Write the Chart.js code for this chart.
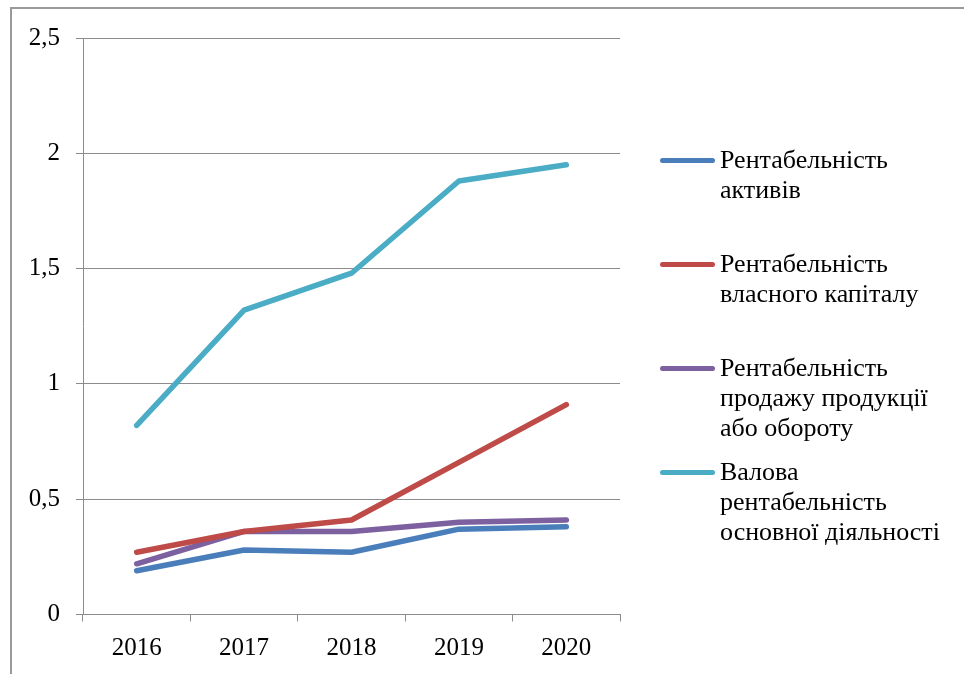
<!DOCTYPE html>
<html lang="uk">
<head>
    <meta charset="UTF-8">
    <title>Рентабельність 2016–2020</title>
    <script src="https://cdn.jsdelivr.net/npm/chart.js"></script>
    <style>
        html, body { margin: 0; padding: 0; background: #fff; }
        body { width: 964px; height: 674px; position: relative; overflow: hidden; font-family: "Liberation Serif", "DejaVu Serif", serif; }
        /* рамка області діаграми */
        .frame {
            position: absolute; left: 10px; top: 7px; right: -10px; bottom: -10px;
            border-left: 2px solid #9a9a9a; border-top: 2px solid #9a9a9a;
        }
        #chartBox { position: absolute; left: 0; top: 0; width: 964px; height: 674px; }
        .legend { position: absolute; left: 660px; top: 0; }
        .legend-item { position: absolute; left: 0; white-space: nowrap; }
        .legend-item .swatch { position: absolute; left: 0; top: 13px; width: 55px; height: 5px; border-radius: 3px; }
        .legend-item .txt { position: absolute; left: 60px; top: 0; font-size: 26px; line-height: 30px; color: #000; }
    </style>
</head>
<body>
<div class="frame"></div>
<div id="chartBox"><canvas id="lineChart" width="964" height="674"></canvas></div>
<div class="legend" id="legend"></div>

<script>
    const years = ['2016', '2017', '2018', '2019', '2020'];
    const yTicks = [0, 0.5, 1, 1.5, 2, 2.5];

    const assetsLabel  = ['Рентабельність', 'активів'];
    const equityLabel  = ['Рентабельність', 'власного капіталу'];
    const salesLabel   = ['Рентабельність', 'продажу продукції', 'або обороту'];
    const grossLabel   = ['Валова', 'рентабельність', 'основної діяльності'];

    const assets = [0.19, 0.28, 0.27, 0.37, 0.38];
    const equity = [0.27, 0.36, 0.41, 0.66, 0.91];
    const sales  = [0.22, 0.36, 0.36, 0.40, 0.41];
    const gross  = [0.82, 1.32, 1.48, 1.88, 1.95];

    const series = [
        { label: assetsLabel, data: assets, color: '#4a7ebb' },
        { label: equityLabel, data: equity, color: '#be4b48' },
        { label: salesLabel,  data: sales,  color: '#7d60a0' },
        { label: grossLabel,  data: gross,  color: '#4bacc6' }
    ];

    const axisColor = '#8c8c8c';
    const font = { family: '"Liberation Serif", "Times New Roman", serif', size: 25 };

    new Chart(document.getElementById('lineChart'), {
        type: 'line',
        data: {
            labels: years,
            datasets: series.map(s => ({
                label: s.label.join(' '),
                data: s.data,
                borderColor: s.color,
                backgroundColor: s.color,
                borderWidth: 5.5,
                borderCapStyle: 'round',
                borderJoinStyle: 'round',
                pointRadius: 0,
                tension: 0
            }))
        },
        options: {
            responsive: false,
            animation: false,
            layout: { padding: { left: 0, top: 38, right: 344, bottom: 0 } },
            plugins: { legend: { display: false }, tooltip: { enabled: false } },
            scales: {
                x: {
                    offset: true,
                    grid: { display: true, drawOnChartArea: false, drawTicks: true, tickLength: 7, offset: true, color: axisColor, lineWidth: 1 },
                    border: { display: true, color: axisColor, width: 1 },
                    ticks: { color: '#000', font, padding: 12, maxRotation: 0 },
                    afterFit: s => { s.height = 59.5; }
                },
                y: {
                    min: 0,
                    max: 2.5,
                    afterBuildTicks: s => { s.ticks = yTicks.map(v => ({ value: v })); },
                    grid: { color: axisColor, lineWidth: 1, drawTicks: true, tickLength: 7 },
                    border: { display: true, color: axisColor, width: 1 },
                    ticks: {
                        color: '#000', font, padding: 16,
                        callback: v => String(v).replace('.', ',')
                    },
                    afterFit: s => { s.width = 83; }
                }
            }
        }
    });

    // легенда праворуч: рядки підписів задані явно
    const legend = document.getElementById('legend');
    series.forEach((s, i) => {
        const item = document.createElement('div');
        item.className = 'legend-item';
        item.style.top = (145 + i * 104) + 'px';
        item.innerHTML = `<div class="swatch" style="background:${s.color}"></div>
            <div class="txt">${s.label.join('<br>')}</div>`;
        legend.appendChild(item);
    });
</script>
</body>
</html>
